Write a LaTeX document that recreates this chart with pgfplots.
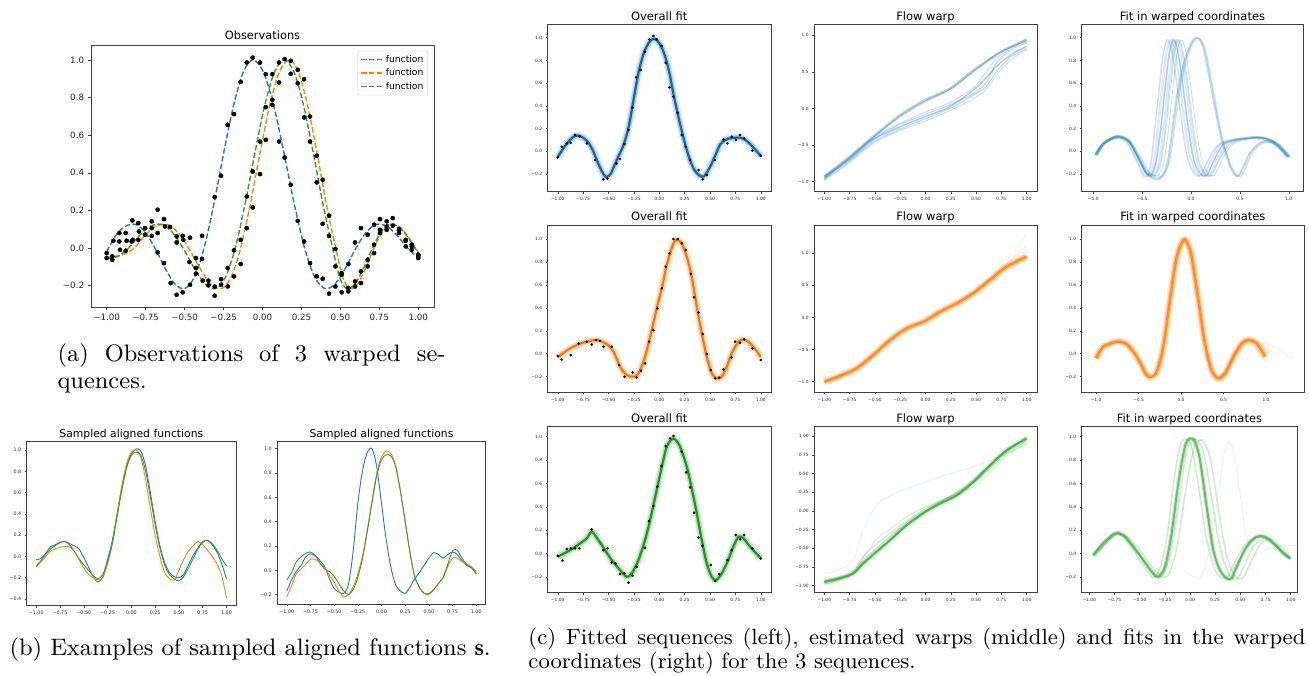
\documentclass[border=0pt]{standalone}
\usepackage{fontspec}
\usepackage{pgfplots}
\usepackage{pgfplotstable}
\pgfplotsset{compat=1.18}
\newfontfamily\djv{DejaVu Sans}
\definecolor{C0}{HTML}{1F77B4}
\definecolor{C1}{HTML}{FF7F0E}
\definecolor{C2}{HTML}{2CA02C}
\pgfplotsset{
 mpl/.style={scale only axis, clip=true, tick pos=left, tick align=outside,
   axis line style={draw=black!75, line width=0.6pt},
   every tick/.append style={draw=black!75, line width=0.5pt}},
 pa/.style={mpl, major tick length=3.5pt,
   tick label style={font=\djv\fontsize{8.7}{10}\selectfont, text=black!85},
   title style={font=\djv\fontsize{11.4}{13}\selectfont, at={(0.5,1)}, anchor=base, yshift=-1pt}},
 pb/.style={mpl, major tick length=2pt,
   tick label style={font=\djv\fontsize{4.8}{6}\selectfont, text=black!85},
   title style={font=\djv\fontsize{10.8}{12}\selectfont, at={(0.5,1)}, anchor=base, yshift=-2.2pt}},
 pc/.style={mpl, major tick length=2pt,
   tick label style={font=\djv\fontsize{4.4}{5.5}\selectfont, text=black!85},
   title style={font=\djv\fontsize{11.5}{13}\selectfont, at={(0.5,1)}, anchor=base, yshift=-1.9pt}},
 xq/.style={xtick={-1,-0.75,-0.5,-0.25,0,0.25,0.5,0.75,1}, xticklabels={−1.00,−0.75,−0.50,−0.25,0.00,0.25,0.50,0.75,1.00}},
 xh/.style={xtick={-1,-0.5,0,0.5,1}, xticklabels={−1.0,−0.5,0.0,0.5,1.0}},
 yf/.style={ytick={-0.2,0,0.2,0.4,0.6,0.8,1}, yticklabels={−0.2,0.0,0.2,0.4,0.6,0.8,1.0}},
 yf4/.style={ytick={-0.4,-0.2,0,0.2,0.4,0.6,0.8,1}, yticklabels={−0.4,−0.2,0.0,0.2,0.4,0.6,0.8,1.0}},
 yh/.style={ytick={-1,-0.5,0,0.5,1}, yticklabels={−1.0,−0.5,0.0,0.5,1.0}},
 yq/.style={ytick={-1,-0.75,-0.5,-0.25,0,0.25,0.5,0.75,1}, yticklabels={−1.00,−0.75,−0.50,−0.25,0.00,0.25,0.50,0.75,1.00}},
 fan/.style={#1, line width=0.9pt, opacity=0.22, smooth},
}
% ---------- fitted curves (c) ----------
\pgfplotstableread{
x y
-1 -0.05
-0.95 0.02
-0.9 0.08
-0.85 0.125
-0.8 0.14
-0.75 0.12
-0.7 0.08
-0.65 0.0
-0.6 -0.11
-0.55 -0.2
-0.52 -0.225
-0.48 -0.2
-0.44 -0.12
-0.4 -0.04
-0.35 0.06
-0.3 0.22
-0.25 0.47
-0.2 0.71
-0.15 0.87
-0.1 0.96
-0.06 0.99
-0.02 0.975
0.02 0.92
0.06 0.83
0.1 0.69
0.15 0.46
0.2 0.26
0.25 0.08
0.3 -0.07
0.35 -0.17
0.4 -0.215
0.44 -0.22
0.48 -0.17
0.52 -0.1
0.56 -0.02
0.6 0.06
0.65 0.1
0.7 0.115
0.75 0.12
0.8 0.12
0.85 0.1
0.9 0.06
0.95 0.01
1 -0.04
}\fitA
\pgfplotstableread{
x y
-1 -0.03
-0.94 0.01
-0.878 0.047
-0.8 0.08
-0.714 0.105
-0.616 0.119
-0.517 0.084
-0.45 0.017
-0.386 -0.113
-0.32 -0.186
-0.255 -0.2
-0.205 -0.172
-0.14 -0.026
-0.074 0.206
-0.025 0.395
0.025 0.57
0.074 0.773
0.14 0.962
0.18 0.99
0.222 0.962
0.271 0.846
0.32 0.67
0.37 0.41
0.419 0.177
0.468 -0.026
0.517 -0.17
0.567 -0.215
0.616 -0.2
0.665 -0.113
0.714 0.003
0.78 0.105
0.836 0.125
0.895 0.09
0.95 0.035
1 -0.03
}\fitB
\pgfplotstableread{
x y
-1 -0.026
-0.878 0.031
-0.78 0.088
-0.714 0.131
-0.665 0.188
-0.6 0.117
-0.534 0.031
-0.468 -0.054
-0.386 -0.14
-0.32 -0.197
-0.27 -0.168
-0.205 -0.054
-0.14 0.117
-0.09 0.288
-0.025 0.544
0.025 0.744
0.074 0.915
0.123 0.977
0.156 0.977
0.205 0.915
0.271 0.744
0.32 0.558
0.37 0.345
0.419 0.117
0.468 -0.083
0.517 -0.197
0.56 -0.225
0.616 -0.168
0.68 -0.054
0.73 0.06
0.78 0.145
0.83 0.131
0.895 0.06
1 -0.04
}\fitC
\pgfplotstableread{
x y
-1 -1.0
-0.845 -0.91
-0.68 -0.79
-0.516 -0.584
-0.35 -0.35
-0.186 -0.17
0 -0.05
0.143 0.09
0.308 0.22
0.473 0.38
0.638 0.585
0.8 0.79
1 0.95
}\warpB
\pgfplotstableread{
x y
-1.0 -0.04
-0.914 0.06
-0.757 0.105
-0.64 0.084
-0.52 -0.026
-0.404 -0.186
-0.345 -0.2
-0.286 -0.157
-0.208 0.061
-0.13 0.468
-0.05 0.846
0.027 0.99
0.067 0.977
0.125 0.846
0.204 0.468
0.282 0.09
0.36 -0.142
0.44 -0.215
0.52 -0.17
0.615 -0.026
0.714 0.09
0.79 0.12
0.89 0.09
0.988 -0.026
}\wfitB
\begin{document}
\begin{tikzpicture}
\useasboundingbox (0pt,0pt) rectangle (1309pt,675pt);
% ================= (a) =================
\begin{axis}[pa, at={(91.1pt,368pt)}, anchor=south west, width=342.8pt, height=262pt,
  xmin=-1.1, xmax=1.1, ymin=-0.313, ymax=1.079, xq, yf, title={Observations},
  legend style={at={(0.983,0.978)}, anchor=north east, draw=black!20, fill=white, fill opacity=0.8, text opacity=1,
    rounded corners=2pt, font=\djv\fontsize{9.2}{11}\selectfont, inner sep=2.5pt, row sep=0.8pt},
  legend cell align=left,
  legend image code/.code={\draw[#1] (0pt,0pt) -- (22pt,0pt);}]
\addplot[C0, line width=1.4pt, dash pattern=on 5.5pt off 2.4pt, smooth] coordinates {(-1,-0.02) (-0.942,0.067) (-0.879,0.116) (-0.816,0.126) (-0.753,0.085) (-0.69,0) (-0.627,-0.104) (-0.564,-0.189) (-0.501,-0.216) (-0.438,-0.156) (-0.375,0) (-0.312,0.234) (-0.249,0.505) (-0.186,0.757) (-0.123,0.936) (-0.06,1) (0.006,0.936) (0.072,0.757) (0.138,0.505) (0.204,0.234) (0.27,0) (0.336,-0.156) (0.402,-0.216) (0.468,-0.189) (0.534,-0.104) (0.6,0) (0.666,0.085) (0.732,0.126) (0.798,0.116) (0.864,0.067) (0.93,0) (1,-0.05)};
\addlegendentry{function}
\addplot[C1, line width=1.4pt, dash pattern=on 5.5pt off 2.4pt, smooth] coordinates {(-1,-0.05) (-0.894,-0.035) (-0.824,0) (-0.754,0.067) (-0.684,0.116) (-0.614,0.126) (-0.544,0.085) (-0.474,0) (-0.404,-0.104) (-0.334,-0.189) (-0.264,-0.216) (-0.202,-0.156) (-0.14,0) (-0.078,0.234) (-0.016,0.505) (0.046,0.757) (0.108,0.936) (0.17,1) (0.23,0.936) (0.29,0.757) (0.35,0.505) (0.41,0.234) (0.47,0) (0.515,-0.156) (0.56,-0.216) (0.612,-0.189) (0.664,-0.104) (0.716,0) (0.769,0.085) (0.822,0.126) (0.875,0.116) (0.928,0.067) (0.981,0) (1,-0.02)};
\addlegendentry{function}
\addplot[C2, line width=1.4pt, dash pattern=on 5.5pt off 2.4pt, smooth] coordinates {(-1,-0.055) (-0.93,-0.045) (-0.86,0) (-0.79,0.067) (-0.72,0.116) (-0.65,0.126) (-0.58,0.085) (-0.51,0) (-0.44,-0.104) (-0.37,-0.189) (-0.301,-0.216) (-0.238,-0.156) (-0.175,0) (-0.112,0.234) (-0.049,0.505) (0.014,0.757) (0.077,0.936) (0.14,1) (0.202,0.936) (0.264,0.757) (0.326,0.505) (0.388,0.234) (0.45,0) (0.495,-0.156) (0.54,-0.216) (0.595,-0.189) (0.65,-0.104) (0.705,0) (0.76,0.085) (0.815,0.126) (0.87,0.116) (0.925,0.067) (0.98,0) (1,-0.03)};
\addlegendentry{function}
\addplot[forget plot, only marks, mark=*, mark size=2.1pt, black] coordinates {(-1,-0.027) (-1,-0.053) (-0.964,-0.044) (-0.964,-0.062) (-0.957,0.039) (-0.919,0.08) (-0.919,0.035) (-0.914,-0.009) (-0.878,0.08) (-0.872,0.039) (-0.878,-0.014) (-0.84,0.035) (-0.835,0.147) (-0.833,0.044) (-0.797,0.044) (-0.797,0.133) (-0.793,0.088) (-0.754,0.071) (-0.754,0.106) (-0.711,0.142) (-0.711,0.106) (-0.711,0.065) (-0.673,0.204) (-0.673,0.08) (-0.673,-0.023) (-0.632,0.154) (-0.632,-0.08) (-0.626,0.115) (-0.593,0.112) (-0.589,-0.186) (-0.551,0.062) (-0.551,0.03) (-0.551,-0.248) (-0.512,0.065) (-0.512,-0.235) (-0.508,0.044) (-0.469,-0.074) (-0.465,0.055) (-0.465,-0.195) (-0.427,-0.053) (-0.427,-0.106) (-0.427,-0.136) (-0.388,-0.058) (-0.384,-0.173) (-0.388,0.065) (-0.347,-0.198) (-0.347,-0.173) (-0.307,0.271) (-0.307,-0.253) (-0.307,-0.204) (-0.266,0.384) (-0.266,-0.165) (-0.266,-0.195) (-0.223,0.655) (-0.223,-0.106) (-0.223,-0.204) (-0.183,0.712) (-0.183,-0.012) (-0.183,-0.15) (-0.14,0.883) (-0.14,0.044) (-0.14,-0.085) (-0.101,0.986) (-0.101,0.274) (-0.101,0.106) (-0.063,1.012) (-0.063,0.407) (-0.063,0.216) (-0.016,0.986) (-0.016,0.566) (-0.016,0.393) (0.021,0.924) (0.021,0.749) (0.021,0.575) (0.063,0.924) (0.063,0.788) (0.063,0.761) (0.106,0.986) (0.106,0.88) (0.106,0.566) (0.142,1.004) (0.142,0.481) (0.181,0.995) (0.181,0.926) (0.181,0.336) (0.226,0.947) (0.226,0.876) (0.226,0.145) (0.267,0.897) (0.267,0.694) (0.267,0.035) (0.305,0.699) (0.305,0.566) (0.305,-0.08) (0.348,0.49) (0.348,0.349) (0.348,-0.15) (0.386,0.363) (0.386,0.129) (0.386,-0.163) (0.427,0.172) (0.427,0.065) (0.427,-0.242) (0.468,-0.005) (0.468,-0.097) (0.468,-0.204) (0.508,-0.133) (0.508,-0.142) (0.508,-0.235) (0.551,-0.085) (0.551,-0.212) (0.551,-0.23) (0.594,0.03) (0.594,-0.177) (0.594,-0.204) (0.632,0.106) (0.632,-0.124) (0.632,-0.186) (0.675,0.071) (0.675,-0.062) (0.675,-0.097) (0.716,0.124) (0.716,0.018) (0.716,-0.027) (0.754,0.154) (0.754,0.097) (0.754,0.08) (0.797,0.142) (0.797,0.115) (0.797,0.097) (0.836,0.159) (0.836,0.119) (0.876,0.094) (0.876,0.08) (0.876,0.101) (0.919,0.039) (0.919,0.009) (0.919,0.044) (0.958,0.009) (0.958,-0.009) (0.958,0.018) (1,-0.035) (1,-0.053) (1,-0.041)};
\end{axis}
% ================= (b) left =================
\begin{axis}[pb, at={(26.7pt,69.3pt)}, anchor=south west, width=209.3pt, height=164pt,
  xmin=-1.1, xmax=1.1, ymin=-0.463, ymax=1.078, xq, yf4, title={Sampled aligned functions}]
\addplot[C0, line width=0.9pt, smooth] coordinates {(-1,-0.03) (-0.95,-0.02) (-0.9,0.03) (-0.85,0.09) (-0.8,0.11) (-0.75,0.13) (-0.7,0.14) (-0.65,0.12) (-0.6,0.1) (-0.55,0.07) (-0.5,-0.01) (-0.45,-0.1) (-0.4,-0.19) (-0.35,-0.24) (-0.3,-0.19) (-0.25,-0.03) (-0.2,0.15) (-0.15,0.4) (-0.1,0.65) (-0.05,0.85) (0,0.96) (0.05,1.01) (0.1,0.99) (0.15,0.85) (0.2,0.6) (0.25,0.33) (0.3,0.1) (0.35,-0.06) (0.4,-0.15) (0.45,-0.19) (0.5,-0.2) (0.55,-0.17) (0.6,-0.08) (0.65,0.01) (0.7,0.08) (0.75,0.14) (0.8,0.15) (0.85,0.11) (0.9,0.04) (0.95,-0.07) (1.0,-0.21)};
\addplot[C1, line width=0.9pt, smooth] coordinates {(-1,-0.1) (-0.95,-0.05) (-0.9,0.0) (-0.85,0.05) (-0.8,0.07) (-0.75,0.085) (-0.7,0.095) (-0.65,0.09) (-0.6,0.05) (-0.55,-0.03) (-0.5,-0.11) (-0.45,-0.17) (-0.4,-0.2) (-0.35,-0.22) (-0.3,-0.2) (-0.25,-0.07) (-0.2,0.12) (-0.15,0.4) (-0.1,0.66) (-0.05,0.87) (0,0.98) (0.05,1.0) (0.1,0.93) (0.15,0.72) (0.2,0.45) (0.25,0.2) (0.3,0.0) (0.35,-0.15) (0.4,-0.21) (0.45,-0.22) (0.5,-0.13) (0.55,-0.03) (0.6,0.05) (0.65,0.1) (0.7,0.14) (0.75,0.11) (0.8,0.06) (0.85,0.0) (0.9,-0.07) (0.95,-0.18) (1.0,-0.39)};
\addplot[C2, line width=0.9pt, smooth] coordinates {(-1,-0.09) (-0.95,-0.04) (-0.9,0.02) (-0.85,0.07) (-0.8,0.1) (-0.75,0.13) (-0.7,0.14) (-0.65,0.11) (-0.6,0.05) (-0.55,-0.02) (-0.5,-0.08) (-0.45,-0.13) (-0.4,-0.18) (-0.35,-0.21) (-0.3,-0.17) (-0.25,-0.05) (-0.2,0.12) (-0.15,0.37) (-0.1,0.62) (-0.05,0.83) (0,0.95) (0.05,0.98) (0.1,0.95) (0.15,0.8) (0.2,0.56) (0.25,0.3) (0.3,0.08) (0.35,-0.08) (0.4,-0.17) (0.45,-0.21) (0.5,-0.23) (0.55,-0.19) (0.6,-0.11) (0.65,-0.02) (0.7,0.07) (0.75,0.13) (0.8,0.15) (0.85,0.12) (0.9,0.06) (0.95,-0.02) (1.0,-0.09)};
\end{axis}
% ================= (b) right =================
\begin{axis}[pb, at={(277.3pt,70.7pt)}, anchor=south west, width=208.4pt, height=162.6pt,
  xmin=-1.1, xmax=1.1, ymin=-0.28, ymax=1.058, xq, yf, title={Sampled aligned functions}]
\addplot[C0, line width=0.9pt, smooth] coordinates {(-1,-0.17) (-0.95,-0.08) (-0.9,-0.01) (-0.85,0.04) (-0.8,0.11) (-0.75,0.135) (-0.7,0.12) (-0.65,0.08) (-0.6,0.03) (-0.55,-0.07) (-0.5,-0.15) (-0.45,-0.18) (-0.4,-0.19) (-0.35,-0.12) (-0.3,0.15) (-0.25,0.55) (-0.2,0.82) (-0.15,0.97) (-0.1,1.0) (-0.05,0.85) (0,0.55) (0.05,0.25) (0.1,0.02) (0.15,-0.12) (0.2,-0.17) (0.25,-0.19) (0.3,-0.14) (0.35,-0.07) (0.4,-0.02) (0.45,0.04) (0.5,0.1) (0.55,0.145) (0.6,0.13) (0.65,0.1) (0.7,0.13) (0.75,0.15) (0.8,0.13) (0.85,0.08) (0.9,0.04) (0.95,0.02) (1.0,-0.03)};
\addplot[C1, line width=0.9pt, smooth] coordinates {(-1,-0.22) (-0.95,-0.13) (-0.9,-0.03) (-0.85,0.01) (-0.8,0.05) (-0.75,0.09) (-0.7,0.09) (-0.65,0.06) (-0.6,0.02) (-0.55,-0.04) (-0.5,-0.1) (-0.45,-0.17) (-0.4,-0.22) (-0.35,-0.2) (-0.3,-0.14) (-0.25,-0.03) (-0.2,0.12) (-0.15,0.33) (-0.1,0.57) (-0.05,0.8) (0,0.93) (0.05,0.98) (0.1,0.96) (0.15,0.86) (0.2,0.65) (0.25,0.4) (0.3,0.15) (0.35,-0.05) (0.4,-0.14) (0.45,-0.19) (0.5,-0.2) (0.55,-0.16) (0.6,-0.11) (0.65,-0.06) (0.7,0.03) (0.75,0.1) (0.8,0.1) (0.85,0.07) (0.9,0.05) (0.95,0.03) (1.0,-0.02)};
\addplot[C2, line width=0.9pt, smooth] coordinates {(-1,-0.08) (-0.95,-0.02) (-0.9,0.07) (-0.85,0.11) (-0.8,0.14) (-0.75,0.15) (-0.7,0.12) (-0.65,0.06) (-0.6,0.01) (-0.55,-0.01) (-0.5,-0.05) (-0.45,-0.11) (-0.4,-0.17) (-0.35,-0.2) (-0.3,-0.16) (-0.25,-0.06) (-0.2,0.1) (-0.15,0.32) (-0.1,0.56) (-0.05,0.78) (0,0.91) (0.05,0.95) (0.1,0.94) (0.15,0.85) (0.2,0.65) (0.25,0.4) (0.3,0.15) (0.35,-0.05) (0.4,-0.14) (0.45,-0.19) (0.5,-0.19) (0.55,-0.16) (0.6,-0.11) (0.65,-0.06) (0.7,0.05) (0.75,0.16) (0.8,0.165) (0.85,0.1) (0.9,0.05) (0.95,0.02) (1.0,-0.01)};
\end{axis}
% ================= (c) row 1 =================
\begin{axis}[pc, at={(547.6pt,483.3pt)}, anchor=south west, width=223.3pt, height=167.4pt,
  xmin=-1.1, xmax=1.1, ymin=-0.355, ymax=1.118, xq, yf, title={Overall fit}]
\addplot[C0, line width=8pt, opacity=0.12, smooth, line join=round] table {\fitA};
\addplot[C0, line width=5pt, opacity=0.25, smooth, line join=round] table {\fitA};
\addplot[C0!85!black, line width=2.2pt, smooth] table {\fitA};
\addplot[only marks, mark=*, mark size=1.1pt, black] coordinates {(-1,-0.053) (-0.96,0.04) (-0.911,0.07) (-0.872,0.076) (-0.829,0.144) (-0.787,0.129) (-0.714,0.07) (-0.632,-0.076) (-0.55,-0.246) (-0.51,-0.238) (-0.419,-0.106) (-0.386,-0.067) (-0.343,0.065) (-0.304,0.188) (-0.264,0.384) (-0.228,0.651) (-0.182,0.716) (-0.14,0.877) (-0.097,0.985) (-0.057,1.015) (-0.025,0.985) (0.025,0.927) (0.064,0.78) (0.1,0.563) (0.14,0.481) (0.182,0.34) (0.222,0.144) (0.261,0.041) (0.304,-0.076) (0.386,-0.164) (0.429,-0.246) (0.468,-0.208) (0.55,-0.076) (0.632,0.106) (0.672,0.07) (0.714,0.129) (0.757,0.1) (0.796,0.144) (0.836,0.114) (0.918,0.006) (1,-0.038)};
\end{axis}
\begin{axis}[pc, at={(814.2pt,483.3pt)}, anchor=south west, width=222.6pt, height=167.4pt,
  xmin=-1.1, xmax=1.1, ymin=-1.137, ymax=1.15, xq, yh, title={Flow warp}]
\addplot[C0, line width=2.2pt, opacity=0.35, smooth] coordinates {(-1,-0.93) (-0.75,-0.66) (-0.52,-0.385) (-0.25,-0.09) (0,0.12) (0.24,0.27) (0.47,0.52) (0.7,0.73) (0.85,0.85) (1,0.94)};
\addplot[C0, line width=1.5pt, opacity=0.35, smooth] coordinates {(-1,-0.96) (-0.75,-0.68) (-0.52,-0.40) (-0.25,-0.11) (0,0.10) (0.24,0.26) (0.47,0.50) (0.7,0.74) (0.85,0.84) (1,0.92)};
\addplot[C0, line width=1.6pt, opacity=0.35, smooth] coordinates {(-1,-0.93) (-0.75,-0.70) (-0.52,-0.43) (-0.25,-0.25) (0,-0.11) (0.24,0.025) (0.47,0.25) (0.6,0.42) (0.7,0.57) (0.84,0.73) (1,0.85)};
\addplot[C0, line width=1.4pt, opacity=0.25, smooth] coordinates {(-1,-0.95) (-0.75,-0.68) (-0.52,-0.42) (-0.25,-0.22) (0,-0.08) (0.24,0.05) (0.47,0.20) (0.6,0.35) (0.7,0.62) (0.84,0.8) (1,0.9)};
\addplot[C0, line width=1.4pt, opacity=0.25, smooth] coordinates {(-1,-0.97) (-0.75,-0.72) (-0.52,-0.46) (-0.25,-0.28) (0,-0.14) (0.24,0.0) (0.47,0.18) (0.6,0.3) (0.7,0.5) (0.84,0.7) (1,0.82)};
\addplot[C0, line width=1.2pt, opacity=0.2, smooth] coordinates {(-1,-0.92) (-0.75,-0.66) (-0.52,-0.40) (-0.25,-0.2) (0,-0.05) (0.24,0.08) (0.47,0.28) (0.6,0.5) (0.7,0.68) (0.84,0.82) (1,0.95)};
\addplot[C0, line width=1.2pt, opacity=0.2, smooth] coordinates {(-1,-0.99) (-0.75,-0.74) (-0.52,-0.48) (-0.25,-0.3) (0,-0.17) (0.24,-0.03) (0.47,0.13) (0.6,0.26) (0.7,0.45) (0.84,0.66) (1,0.8)};
\end{axis}
\begin{axis}[pc, at={(1081.7pt,483.3pt)}, anchor=south west, width=221.6pt, height=167.4pt,
  xmin=-1.119, xmax=1.149, ymin=-0.355, ymax=1.118, xh, yf, title={Fit in warped coordinates}]
\addplot[fan=C0] coordinates {(-0.98,-0.03) (-0.9,0.07) (-0.76,0.13) (-0.64,0.09) (-0.54,-0.06) (-0.46,-0.19) (-0.41,-0.21) (-0.36,-0.1) (-0.31,0.2) (-0.26,0.6) (-0.22,0.88) (-0.18,0.98) (-0.14,0.9) (-0.09,0.62) (-0.03,0.22) (0.03,-0.08) (0.1,-0.2) (0.16,-0.21) (0.24,-0.07) (0.33,0.06) (0.45,0.1) (0.6,0.12) (0.72,0.12) (0.85,0.08) (0.95,0.0) (1.0,-0.05)};
\addplot[fan=C0, line width=2pt] coordinates {(-0.98,-0.03) (-0.9,0.07) (-0.76,0.13) (-0.64,0.09) (-0.54,-0.06) (-0.46,-0.19) (-0.41,-0.21) (-0.36,-0.1) (-0.31,0.2) (-0.26,0.6) (-0.22,0.88) (-0.18,0.98) (-0.14,0.9) (-0.09,0.62) (-0.03,0.22) (0.03,-0.08) (0.1,-0.2) (0.16,-0.21) (0.24,-0.07) (0.33,0.06) (0.45,0.1) (0.6,0.12) (0.72,0.12) (0.85,0.08) (0.95,0.0) (1.0,-0.05)};
\addplot[fan=C0, line width=2.4pt, opacity=0.15] coordinates {(-0.98,-0.03) (-0.9,0.07) (-0.77,0.13) (-0.65,0.09) (-0.55,-0.07) (-0.48,-0.19) (-0.43,-0.21) (-0.38,-0.1) (-0.34,0.2) (-0.29,0.6) (-0.25,0.88) (-0.21,0.98) (-0.17,0.9) (-0.12,0.62) (-0.06,0.22) (0.0,-0.08) (0.07,-0.2) (0.13,-0.21) (0.21,-0.07) (0.3,0.06) (0.43,0.1) (0.58,0.12) (0.71,0.12) (0.84,0.08) (0.94,0.0) (1.0,-0.05)};
\addplot[fan=C0, line width=2.4pt, opacity=0.15] coordinates {(-0.97,-0.03) (-0.89,0.07) (-0.75,0.13) (-0.63,0.09) (-0.53,-0.06) (-0.45,-0.19) (-0.39,-0.21) (-0.33,-0.1) (-0.28,0.2) (-0.23,0.6) (-0.19,0.88) (-0.15,0.98) (-0.11,0.9) (-0.06,0.62) (0.0,0.22) (0.06,-0.08) (0.13,-0.2) (0.19,-0.21) (0.27,-0.07) (0.36,0.06) (0.48,0.1) (0.63,0.12) (0.75,0.12) (0.87,0.07) (0.96,0.0) (1.01,-0.05)};
\addplot[fan=C0, line width=1.6pt] coordinates {(-0.99,-0.04) (-0.91,0.06) (-0.78,0.12) (-0.66,0.08) (-0.56,-0.08) (-0.5,-0.2) (-0.45,-0.22) (-0.41,-0.1) (-0.37,0.2) (-0.32,0.6) (-0.28,0.88) (-0.24,0.98) (-0.2,0.9) (-0.15,0.62) (-0.09,0.22) (-0.03,-0.08) (0.04,-0.2) (0.1,-0.21) (0.18,-0.07) (0.27,0.05) (0.4,0.1) (0.55,0.11) (0.7,0.11) (0.83,0.07) (0.93,0.0) (0.99,-0.05)};
\addplot[fan=C0, line width=1.6pt] coordinates {(-0.97,-0.02) (-0.89,0.08) (-0.75,0.14) (-0.63,0.1) (-0.53,-0.05) (-0.44,-0.18) (-0.37,-0.21) (-0.31,-0.1) (-0.26,0.2) (-0.21,0.6) (-0.17,0.88) (-0.13,0.98) (-0.09,0.9) (-0.04,0.62) (0.02,0.22) (0.08,-0.08) (0.15,-0.2) (0.21,-0.21) (0.29,-0.07) (0.38,0.05) (0.5,0.1) (0.65,0.12) (0.78,0.11) (0.9,0.06) (0.97,-0.01) (1.02,-0.05)};
\addplot[fan=C0] coordinates {(-0.96,-0.03) (-0.88,0.07) (-0.74,0.12) (-0.62,0.08) (-0.5,-0.07) (-0.42,-0.19) (-0.34,-0.21) (-0.28,-0.1) (-0.23,0.2) (-0.18,0.6) (-0.14,0.88) (-0.1,0.98) (-0.06,0.9) (-0.01,0.62) (0.05,0.22) (0.11,-0.08) (0.18,-0.2) (0.24,-0.21) (0.32,-0.07) (0.41,0.05) (0.53,0.1) (0.68,0.12) (0.8,0.11) (0.92,0.05) (1.0,-0.03)};
\addplot[fan=C0, line width=2pt, opacity=0.3] coordinates {(-0.97,-0.04) (-0.9,0.06) (-0.76,0.13) (-0.64,0.09) (-0.54,-0.06) (-0.46,-0.19) (-0.4,-0.23) (-0.32,-0.24) (-0.24,-0.1) (-0.15,0.45) (-0.08,0.75) (0.0,0.95) (0.07,1.0) (0.13,0.9) (0.2,0.6) (0.3,0.15) (0.4,-0.13) (0.47,-0.22) (0.53,-0.15) (0.6,-0.02) (0.7,0.07) (0.8,0.09) (0.9,0.04) (0.98,-0.05)};
\addplot[fan=C0, line width=1.4pt] coordinates {(-0.96,-0.03) (-0.88,0.07) (-0.75,0.12) (-0.63,0.08) (-0.53,-0.07) (-0.45,-0.2) (-0.38,-0.22) (-0.3,-0.22) (-0.22,-0.08) (-0.13,0.45) (-0.06,0.76) (0.02,0.96) (0.09,0.99) (0.15,0.88) (0.22,0.58) (0.32,0.12) (0.42,-0.15) (0.5,-0.22) (0.56,-0.14) (0.63,-0.01) (0.73,0.07) (0.83,0.08) (0.92,0.03) (1.0,-0.05)};
\end{axis}
% ================= (c) row 2 =================
\begin{axis}[pc, at={(547.6pt,282.7pt)}, anchor=south west, width=223.3pt, height=167.3pt,
  xmin=-1.1, xmax=1.1, ymin=-0.336, ymax=1.122, xq, yf, title={Overall fit}]
\addplot[C1, line width=8pt, opacity=0.12, smooth, line join=round] table {\fitB};
\addplot[C1, line width=5pt, opacity=0.25, smooth, line join=round] table {\fitB};
\addplot[C1!95!black, line width=2.2pt, smooth] table {\fitB};
\addplot[only marks, mark=*, mark size=1.1pt, black] coordinates {(-1,-0.02) (-0.96,-0.05) (-0.872,-0.012) (-0.793,0.09) (-0.714,0.105) (-0.665,0.081) (-0.622,0.119) (-0.583,0.113) (-0.55,0.061) (-0.468,0.061) (-0.396,-0.099) (-0.343,-0.2) (-0.261,-0.163) (-0.222,-0.206) (-0.18,-0.148) (-0.14,-0.084) (-0.1,0.105) (-0.057,0.206) (-0.018,0.395) (0.025,0.57) (0.064,0.759) (0.1,0.875) (0.14,1.0) (0.182,1.0) (0.222,0.962) (0.261,0.904) (0.31,0.695) (0.343,0.491) (0.386,0.36) (0.429,0.172) (0.468,-0.003) (0.507,-0.142) (0.55,-0.215) (0.59,-0.209) (0.632,-0.137) (0.714,-0.032) (0.747,0.105) (0.796,0.096) (0.836,0.125) (0.918,0.047) (1,-0.055)};
\end{axis}
\begin{axis}[pc, at={(814.2pt,282.7pt)}, anchor=south west, width=222.6pt, height=167.3pt,
  xmin=-1.1, xmax=1.1, ymin=-1.165, ymax=1.44, xq, yh, title={Flow warp}]
\addplot[C1, line width=0.8pt, opacity=0.12, smooth] coordinates {(0.473,0.38) (0.638,0.6) (0.8,0.9) (0.9,1.1) (1,1.3)};
\addplot[C1, line width=0.8pt, opacity=0.15, smooth] coordinates {(0.473,0.38) (0.638,0.59) (0.8,0.84) (0.9,0.98) (1,1.12)};
\addplot[C1, line width=0.8pt, opacity=0.15, smooth] coordinates {(0.473,0.38) (0.638,0.6) (0.8,0.83) (0.9,0.95) (1,1.05)};
\addplot[C1, line width=8pt, opacity=0.15, smooth, line join=round] table {\warpB};
\addplot[C1, line width=5pt, opacity=0.35, smooth, line join=round] table {\warpB};
\addplot[C1, line width=2.5pt, opacity=0.8, smooth] table {\warpB};
\end{axis}
\begin{axis}[pc, at={(1081.7pt,282.7pt)}, anchor=south west, width=222.3pt, height=167.3pt,
  xmin=-1.168, xmax=1.447, ymin=-0.336, ymax=1.122, xh, yf, title={Fit in warped coordinates}]
\addplot[fan=C1, opacity=0.15] coordinates {(0.44,-0.215) (0.55,-0.14) (0.68,0.02) (0.8,0.11) (0.92,0.1) (1.05,0.03) (1.15,-0.02)};
\addplot[fan=C1, opacity=0.12] coordinates {(0.44,-0.215) (0.58,-0.1) (0.75,0.05) (0.9,0.1) (1.05,0.08) (1.2,0.01) (1.32,-0.05)};
\addplot[fan=C1, opacity=0.2] coordinates {(0.44,-0.2) (0.52,-0.16) (0.6,-0.05) (0.7,0.08) (0.78,0.1) (0.86,0.06) (0.95,-0.02) (1.0,-0.06)};
\addplot[fan=C1, opacity=0.2] coordinates {(0.44,-0.215) (0.54,-0.15) (0.64,0.0) (0.76,0.1) (0.86,0.11) (0.96,0.06) (1.06,-0.01)};
\addplot[C1, line width=8pt, opacity=0.15, smooth, line join=round] table {\wfitB};
\addplot[C1, line width=5pt, opacity=0.35, smooth, line join=round] table {\wfitB};
\addplot[C1, line width=2.5pt, opacity=0.8, smooth] table {\wfitB};
\end{axis}
% ================= (c) row 3 =================
\begin{axis}[pc, at={(547.6pt,82.3pt)}, anchor=south west, width=223.3pt, height=166.4pt,
  xmin=-1.1, xmax=1.1, ymin=-0.333, ymax=1.089, xq, yf, title={Overall fit}]
\addplot[C2, line width=8pt, opacity=0.12, smooth, line join=round] table {\fitC};
\addplot[C2, line width=5pt, opacity=0.25, smooth, line join=round] table {\fitC};
\addplot[C2!90!black, line width=2.2pt, smooth] table {\fitC};
\addplot[only marks, mark=*, mark size=1.1pt, black] coordinates {(-1,-0.02) (-0.954,-0.06) (-0.911,0.04) (-0.872,0.046) (-0.829,0.046) (-0.787,0.046) (-0.665,0.208) (-0.55,0.031) (-0.51,0.046) (-0.468,-0.074) (-0.429,-0.083) (-0.386,-0.174) (-0.343,-0.168) (-0.304,-0.248) (-0.264,-0.188) (-0.222,-0.111) (-0.14,0.051) (-0.1,0.279) (-0.057,0.407) (-0.018,0.573) (0.022,0.749) (0.064,0.92) (0.107,0.986) (0.14,1.006) (0.222,0.872) (0.264,0.695) (0.304,0.567) (0.343,0.35) (0.386,0.137) (0.425,0.068) (0.507,-0.097) (0.55,-0.234) (0.59,-0.174) (0.672,-0.054) (0.714,0.031) (0.754,0.16) (0.796,0.123) (0.836,0.16) (0.918,0.046) (1,-0.04)};
\end{axis}
\begin{axis}[pc, at={(814.2pt,82.3pt)}, anchor=south west, width=222.6pt, height=166.4pt,
  xmin=-1.1, xmax=1.1, ymin=-1.094, ymax=1.134, xq, yq, title={Flow warp}]
\addplot[C2, line width=0.9pt, opacity=0.12, smooth] coordinates {(-1,-0.84) (-0.845,-0.78) (-0.713,-0.66) (-0.614,-0.25) (-0.483,0.08) (-0.35,0.2) (-0.186,0.3) (0.143,0.46) (0.473,0.59) (0.8,0.77) (1,0.9)};
\addplot[C2, line width=1.6pt, opacity=0.18, smooth] coordinates {(-1,-0.93) (-0.845,-0.88) (-0.713,-0.8) (-0.614,-0.61) (-0.483,-0.44) (-0.35,-0.3) (-0.186,-0.13) (0,0.03) (0.143,0.13) (0.308,0.24) (0.473,0.38) (0.638,0.57) (0.8,0.77) (1,0.93)};
\addplot[C2, line width=1.4pt, opacity=0.15, smooth] coordinates {(-1,-0.97) (-0.845,-0.91) (-0.713,-0.82) (-0.614,-0.62) (-0.483,-0.38) (-0.35,-0.24) (-0.186,-0.08) (0,0.06) (0.143,0.14) (0.308,0.22) (0.473,0.33) (0.638,0.52) (0.8,0.74) (1,0.9)};
\addplot[C2, line width=1.6pt, opacity=0.2, smooth] coordinates {(-1,-0.98) (-0.845,-0.92) (-0.713,-0.83) (-0.614,-0.66) (-0.483,-0.5) (-0.35,-0.34) (-0.186,-0.16) (0,0.0) (0.143,0.12) (0.308,0.25) (0.473,0.42) (0.638,0.62) (0.8,0.8) (1,0.99)};
\addplot[C2, line width=5pt, opacity=0.2, smooth] coordinates {(-1,-0.95) (-0.845,-0.9) (-0.713,-0.835) (-0.614,-0.7) (-0.483,-0.545) (-0.35,-0.39) (-0.186,-0.19) (0,-0.01) (0.143,0.1) (0.308,0.21) (0.473,0.39) (0.638,0.61) (0.8,0.81) (1,0.97)};
\addplot[C2, line width=2.2pt, opacity=0.75, smooth] coordinates {(-1,-0.95) (-0.845,-0.9) (-0.713,-0.835) (-0.614,-0.7) (-0.483,-0.545) (-0.35,-0.39) (-0.186,-0.19) (0,-0.01) (0.143,0.1) (0.308,0.21) (0.473,0.39) (0.638,0.61) (0.8,0.81) (1,0.97)};
\end{axis}
\begin{axis}[pc, at={(1081.7pt,82.3pt)}, anchor=south west, width=215.6pt, height=166.4pt,
  xmin=-1.075, xmax=1.066, ymin=-0.333, ymax=1.089, xq, yf, title={Fit in warped coordinates}]
\addplot[fan=C2, opacity=0.1] coordinates {(-0.05,-0.15) (0.1,-0.2) (0.2,0.05) (0.28,0.5) (0.34,0.85) (0.39,0.96) (0.44,0.85) (0.5,0.5) (0.56,0.15) (0.65,0.0) (0.8,0.05) (0.95,0.07) (1.05,0.07)};
\addplot[fan=C2, line width=1.6pt] coordinates {(-0.96,-0.02) (-0.86,0.07) (-0.74,0.16) (-0.64,0.14) (-0.52,0.02) (-0.42,-0.12) (-0.33,-0.2) (-0.26,-0.17) (-0.18,0.05) (-0.1,0.5) (-0.03,0.88) (0.06,0.98) (0.14,0.85) (0.22,0.45) (0.3,0.05) (0.38,-0.16) (0.46,-0.22) (0.53,-0.12) (0.62,0.05) (0.72,0.13) (0.8,0.12) (0.9,0.04) (1.0,-0.05)};
\addplot[fan=C2, line width=1.6pt] coordinates {(-0.95,-0.03) (-0.84,0.08) (-0.72,0.17) (-0.6,0.13) (-0.47,0.0) (-0.36,-0.13) (-0.27,-0.2) (-0.2,-0.16) (-0.12,0.1) (-0.04,0.55) (0.04,0.9) (0.12,0.97) (0.2,0.82) (0.28,0.4) (0.36,0.0) (0.44,-0.18) (0.52,-0.21) (0.6,-0.08) (0.7,0.08) (0.8,0.13) (0.9,0.06) (1.0,-0.04)};
\addplot[fan=C2, line width=1.6pt] coordinates {(-0.97,-0.02) (-0.87,0.09) (-0.76,0.17) (-0.67,0.15) (-0.58,0.05) (-0.48,-0.08) (-0.4,-0.18) (-0.35,-0.2) (-0.29,-0.1) (-0.22,0.2) (-0.16,0.62) (-0.1,0.92) (-0.04,0.98) (0.02,0.9) (0.09,0.55) (0.16,0.15) (0.24,-0.12) (0.32,-0.21) (0.38,-0.19) (0.45,-0.06) (0.55,0.08) (0.65,0.14) (0.75,0.13) (0.85,0.07) (0.95,-0.01) (1.0,-0.04)};
\addplot[fan=C2, line width=4pt, opacity=0.25] coordinates {(-0.96,-0.01) (-0.86,0.088) (-0.745,0.174) (-0.662,0.16) (-0.563,0.06) (-0.464,-0.054) (-0.364,-0.168) (-0.315,-0.197) (-0.248,-0.11) (-0.182,0.174) (-0.116,0.6) (-0.05,0.915) (0,0.986) (0.05,0.957) (0.1,0.8) (0.166,0.4) (0.232,0.031) (0.298,-0.14) (0.364,-0.21) (0.414,-0.21) (0.464,-0.11) (0.563,0.06) (0.662,0.145) (0.745,0.145) (0.828,0.088) (0.927,0.003) (0.993,-0.04)};
\addplot[fan=C2, line width=2pt, opacity=0.6] coordinates {(-0.96,-0.01) (-0.86,0.088) (-0.745,0.174) (-0.662,0.16) (-0.563,0.06) (-0.464,-0.054) (-0.364,-0.168) (-0.315,-0.197) (-0.248,-0.11) (-0.182,0.174) (-0.116,0.6) (-0.05,0.915) (0,0.986) (0.05,0.957) (0.1,0.8) (0.166,0.4) (0.232,0.031) (0.298,-0.14) (0.364,-0.21) (0.414,-0.21) (0.464,-0.11) (0.563,0.06) (0.662,0.145) (0.745,0.145) (0.828,0.088) (0.927,0.003) (0.993,-0.04)};
\end{axis}
% ================= captions =================
\node[anchor=base west, scale=2.645, transform shape, inner sep=0pt] at (57pt,313.3pt)
  {\parbox[t]{146.7pt}{\fontsize{9}{10.1}\selectfont (a) Observations of 3 warped se-\linebreak quences.}};
\node[anchor=base west, scale=2.645, transform shape, inner sep=0pt] at (9pt,20pt)
  {\fontsize{9}{10.1}\selectfont (b) Examples of sampled aligned functions $\mathbf{s}$.};
\node[anchor=base west, scale=2.45, transform shape, inner sep=0pt] at (528pt,31pt)
  {\parbox[t]{317.1pt}{\fontsize{9}{10}\selectfont (c) Fitted sequences (left), estimated warps (middle) and fits in the warped\linebreak coordinates (right) for the 3 sequences.}};
\end{tikzpicture}
\end{document}
